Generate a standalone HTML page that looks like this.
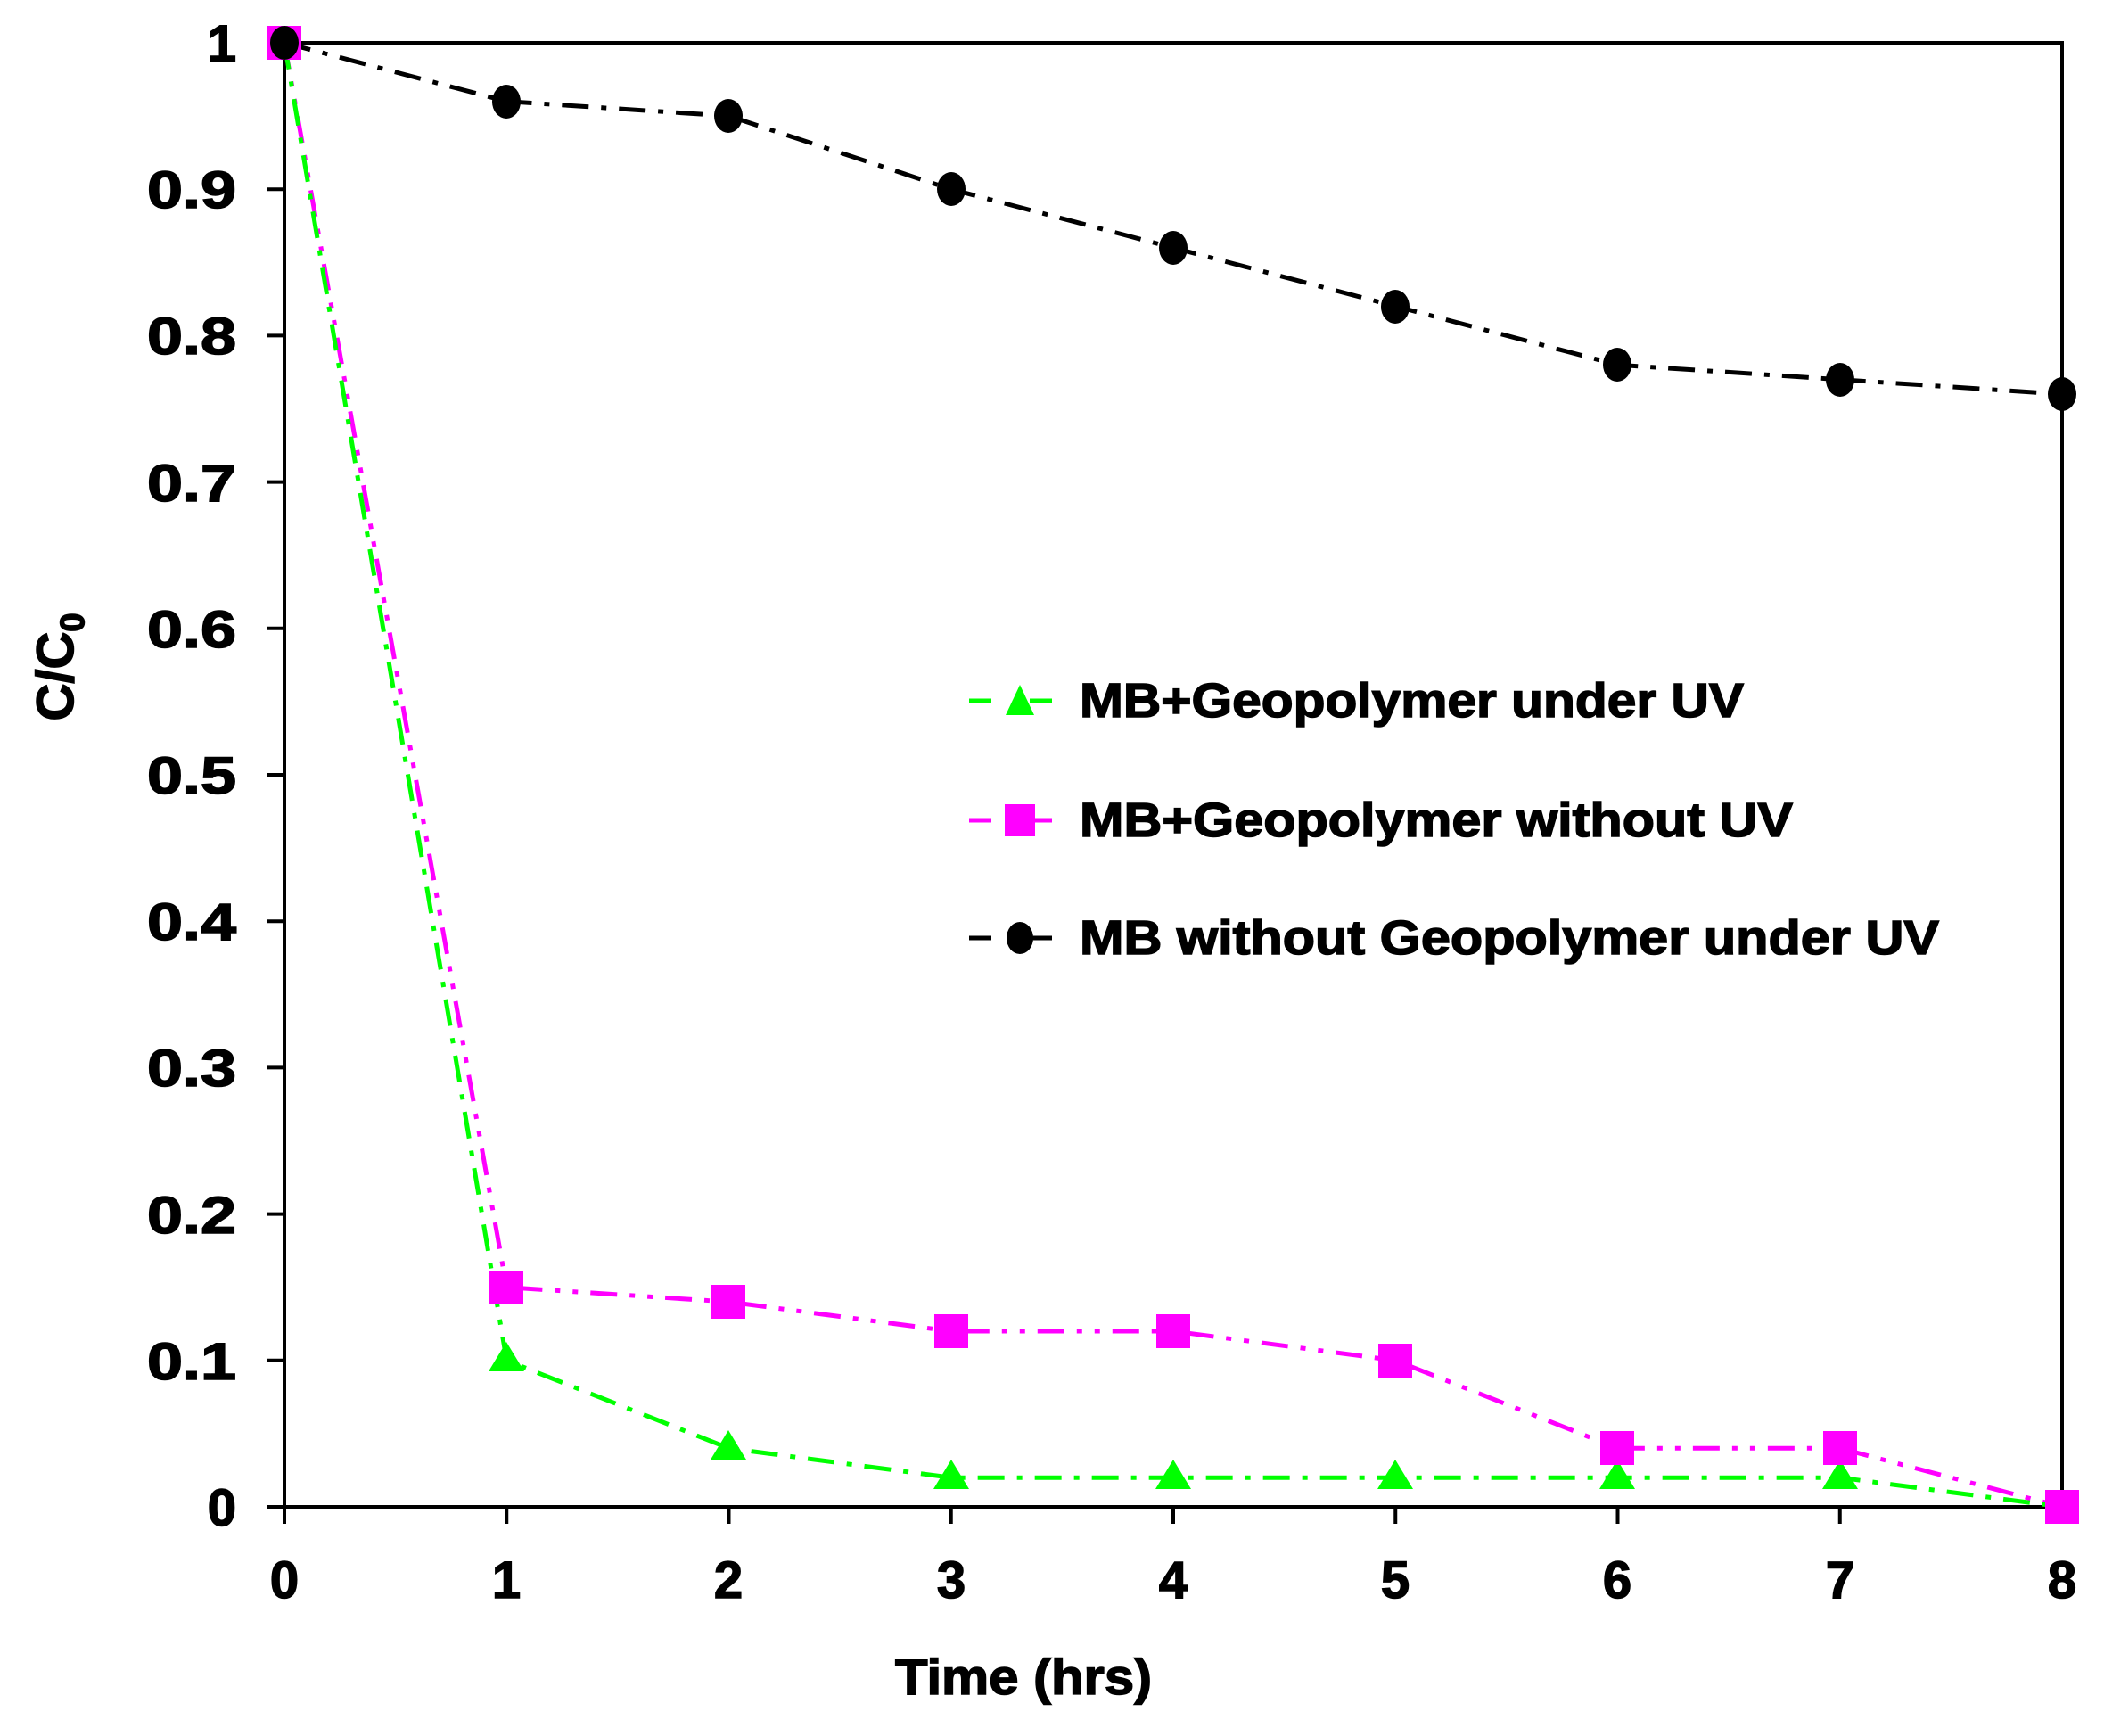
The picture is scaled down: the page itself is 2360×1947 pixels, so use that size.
<!DOCTYPE html>
<html><head><meta charset="utf-8"><style>html,body{margin:0;padding:0;background:#fff}</style></head>
<body>
<svg width="2360" height="1942" viewBox="0 0 2360 1942" xmlns="http://www.w3.org/2000/svg" font-family="Liberation Sans, Arial, sans-serif" font-weight="bold">
<rect width="2360" height="1942" fill="#fff"/>
<rect x="319" y="48" width="1994" height="1642" fill="none" stroke="#000" stroke-width="4"/>
<g stroke="#000" stroke-width="4">
<line x1="300" y1="1690" x2="319" y2="1690"/><line x1="300" y1="1525.8" x2="319" y2="1525.8"/>
<line x1="300" y1="1361.6" x2="319" y2="1361.6"/><line x1="300" y1="1197.4" x2="319" y2="1197.4"/>
<line x1="300" y1="1033.2" x2="319" y2="1033.2"/><line x1="300" y1="869" x2="319" y2="869"/>
<line x1="300" y1="704.8" x2="319" y2="704.8"/><line x1="300" y1="540.6" x2="319" y2="540.6"/>
<line x1="300" y1="376.4" x2="319" y2="376.4"/><line x1="300" y1="212.2" x2="319" y2="212.2"/>
<line x1="300" y1="48" x2="319" y2="48"/>
<line x1="319" y1="1690" x2="319" y2="1709"/><line x1="568.25" y1="1690" x2="568.25" y2="1709"/>
<line x1="817.5" y1="1690" x2="817.5" y2="1709"/><line x1="1066.75" y1="1690" x2="1066.75" y2="1709"/>
<line x1="1316" y1="1690" x2="1316" y2="1709"/><line x1="1565.25" y1="1690" x2="1565.25" y2="1709"/>
<line x1="1814.5" y1="1690" x2="1814.5" y2="1709"/><line x1="2063.75" y1="1690" x2="2063.75" y2="1709"/>
<line x1="2313" y1="1690" x2="2313" y2="1709"/>
</g>
<g stroke="#000" stroke-width="1.5">
<g font-size="58" text-anchor="end">
<text x="265" y="1711">0</text>
<text x="265" y="1547" textLength="100" lengthAdjust="spacingAndGlyphs">0.1</text>
<text x="265" y="1383" textLength="100" lengthAdjust="spacingAndGlyphs">0.2</text>
<text x="265" y="1218" textLength="100" lengthAdjust="spacingAndGlyphs">0.3</text>
<text x="265" y="1054" textLength="100" lengthAdjust="spacingAndGlyphs">0.4</text>
<text x="265" y="890" textLength="100" lengthAdjust="spacingAndGlyphs">0.5</text>
<text x="265" y="726" textLength="100" lengthAdjust="spacingAndGlyphs">0.6</text>
<text x="265" y="562" textLength="100" lengthAdjust="spacingAndGlyphs">0.7</text>
<text x="265" y="397" textLength="100" lengthAdjust="spacingAndGlyphs">0.8</text>
<text x="265" y="233" textLength="100" lengthAdjust="spacingAndGlyphs">0.9</text>
<text x="265" y="69">1</text>
</g>
<g font-size="58" text-anchor="middle">
<text x="319" y="1792">0</text><text x="568" y="1792">1</text><text x="817" y="1792">2</text>
<text x="1067" y="1792">3</text><text x="1316" y="1792">4</text><text x="1565" y="1792">5</text>
<text x="1814" y="1792">6</text><text x="2064" y="1792">7</text><text x="2313" y="1792">8</text>
</g>
<text x="1148" y="1900" font-size="56" text-anchor="middle" textLength="288" lengthAdjust="spacingAndGlyphs">Time (hrs)</text>
<text transform="translate(82,748) rotate(-90)" font-size="58" text-anchor="middle">C/C<tspan font-size="38" dy="12">0</tspan></text>
</g>
<polyline fill="none" stroke="#000" stroke-width="5" stroke-dasharray="30,14,6,14" points="319,48 568.25,113.7 817.5,130.1 1066.75,212.2 1316,277.9 1565.25,343.5 1814.5,409.2 2063.75,425.7 2313,442.1"/>
<polyline fill="none" stroke="#ff00ff" stroke-width="5" stroke-dasharray="30,14,6,14,6,14" points="319,48 568.25,1443.7 817.5,1460.1 1066.75,1493 1316,1493 1565.25,1525.8 1814.5,1624.3 2063.75,1624.3 2313,1690"/>
<polyline fill="none" stroke="#00ff00" stroke-width="5" stroke-dasharray="30,14,6,14" points="319,48 568.25,1525.8 817.5,1624.3 1066.75,1657.2 1316,1657.2 1565.25,1657.2 1814.5,1657.2 2063.75,1657.2 2313,1690"/>
<g fill="#00ff00">
<polygon points="568,1505 548,1538 588,1538"/><polygon points="817,1604 797,1637 837,1637"/>
<polygon points="1067,1637 1047,1670 1087,1670"/><polygon points="1316,1637 1296,1670 1336,1670"/>
<polygon points="1565,1637 1545,1670 1585,1670"/><polygon points="1814,1637 1794,1670 1834,1670"/>
<polygon points="2064,1637 2044,1670 2084,1670"/>
</g>
<g fill="#ff00ff">
<rect x="300" y="29" width="38" height="38"/><rect x="549" y="1425" width="38" height="38"/>
<rect x="798" y="1441" width="38" height="38"/><rect x="1048" y="1474" width="38" height="38"/>
<rect x="1297" y="1474" width="38" height="38"/><rect x="1546" y="1507" width="38" height="38"/>
<rect x="1795" y="1605" width="38" height="38"/><rect x="2045" y="1605" width="38" height="38"/>
<rect x="2294" y="1671" width="38" height="38"/>
</g>
<g fill="#000">
<ellipse cx="319" cy="48" rx="16" ry="19"/><ellipse cx="568" cy="114" rx="16" ry="19"/>
<ellipse cx="817" cy="130" rx="16" ry="19"/><ellipse cx="1067" cy="212" rx="16" ry="19"/>
<ellipse cx="1316" cy="278" rx="16" ry="19"/><ellipse cx="1565" cy="344" rx="16" ry="19"/>
<ellipse cx="1814" cy="409" rx="16" ry="19"/><ellipse cx="2064" cy="426" rx="16" ry="19"/>
<ellipse cx="2313" cy="442" rx="16" ry="19"/>
</g>
<g stroke-width="5">
<line x1="1087" y1="786" x2="1112" y2="786" stroke="#00ff00"/><line x1="1155" y1="786" x2="1180" y2="786" stroke="#00ff00"/>
<polygon points="1144,768 1128,802 1160,802" fill="#00ff00" stroke="none"/>
<line x1="1087" y1="920" x2="1112" y2="920" stroke="#ff00ff"/><line x1="1155" y1="920" x2="1180" y2="920" stroke="#ff00ff"/>
<rect x="1127" y="902" width="34" height="36" fill="#ff00ff" stroke="none"/>
<line x1="1087" y1="1052" x2="1112" y2="1052" stroke="#000"/><line x1="1155" y1="1052" x2="1180" y2="1052" stroke="#000"/>
<ellipse cx="1144" cy="1052" rx="15" ry="18" fill="#000" stroke="none"/>
</g>
<g font-size="54" stroke="#000" stroke-width="1.5">
<text x="1211" y="804" textLength="745" lengthAdjust="spacingAndGlyphs">MB+Geopolymer under UV</text>
<text x="1211" y="938" textLength="800" lengthAdjust="spacingAndGlyphs">MB+Geopolymer without UV</text>
<text x="1211" y="1070" textLength="964" lengthAdjust="spacingAndGlyphs">MB without Geopolymer under UV</text>
</g>
</svg>
</body></html>
